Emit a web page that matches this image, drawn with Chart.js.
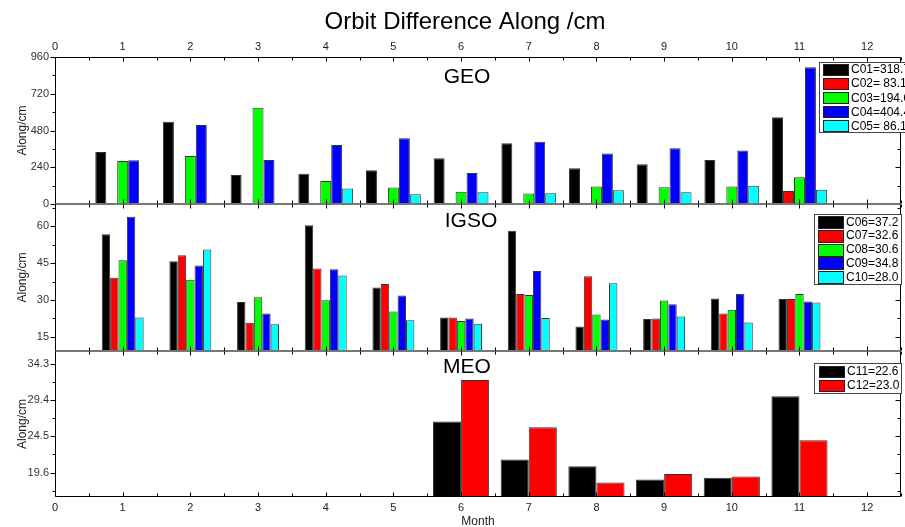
<!DOCTYPE html>
<html><head><meta charset="utf-8">
<script src="https://cdn.jsdelivr.net/npm/chart.js@4.4.1/dist/chart.umd.min.js"></script>
<style>
html,body{margin:0;padding:0;background:#fff;}
#wrap{position:relative;width:905px;height:527px;overflow:hidden;background:#fff;}
#wrap canvas{position:absolute;left:0;top:0;}
</style></head><body>
<div id="wrap">
<canvas id="geo" width="905" height="527"></canvas>
<canvas id="igso" width="905" height="527"></canvas>
<canvas id="meo" width="905" height="527"></canvas>
</div>
<script>
// ---------- data ----------
const months = [1, 2, 3, 4, 5, 6, 7, 8, 9, 10, 11];
const meoMonths = [6, 7, 8, 9, 10, 11];
const monthTicks = [0, 1, 2, 3, 4, 5, 6, 7, 8, 9, 10, 11, 12];

const geoLabels = ['C01=318.7', 'C02= 83.1', 'C03=194.0', 'C04=404.4', 'C05= 86.1'];
const C01 = [340, 537, 189, 198, 220, 298, 396, 233, 259, 287, 566];
const C02 = [null, null, null, null, null, null, null, null, null, null, 85];
const C03 = [281, 313, 629, 150, 107, 80, 68, 115, 109, 115, 174];
const C04 = [285, 516, 287, 385, 429, 202, 407, 329, 364, 350, 893];
const C05 = [null, null, null, 102, 63, 76, 70, 89, 76, 120, 93];
const geoTicks = [0, 240, 480, 720, 960];

const igsoLabels = ['C06=37.2', 'C07=32.6', 'C08=30.6', 'C09=34.8', 'C10=28.0'];
const C06 = [56.7, 45.8, 29.2, 60.4, 35.1, 22.9, 58.1, 19.3, 22.3, 30.6, 30.4];
const C07 = [39.0, 48.2, 20.8, 42.8, 36.5, 22.9, 32.4, 39.7, 22.5, 24.5, 30.4];
const C08 = [46.2, 38.2, 31.1, 29.9, 25.3, 21.5, 32.0, 24.1, 29.8, 26.1, 32.4];
const C09 = [63.8, 44.0, 24.5, 42.5, 31.8, 22.5, 41.8, 22.1, 28.3, 32.6, 29.4];
const C10 = [22.9, 50.5, 20.2, 40.0, 21.8, 20.4, 22.7, 36.8, 23.3, 20.9, 29.0];
const igsoTicks = [15, 30, 45, 60];

const meoLabels = ['C11=22.6', 'C12=23.0'];
const C11 = [26.5, 21.35, 20.45, 18.65, 18.9, 29.9];
const C12 = [32.1, 25.7, 18.25, 19.4, 19.05, 23.95];
const meoTicks = [19.6, 24.5, 29.4, 34.3];

// ---------- styling ----------
const colors = ['#000000', '#ff0000', '#00ff00', '#0000ff', '#00ffff'];
const FONT = '"Liberation Sans", Arial, Helvetica, sans-serif';
Chart.defaults.font.family = FONT;

function mk(xs, label, vals, i) {
  return {
    label: label,
    data: xs.map((m, k) => ({ x: m, y: vals[k] })),
    backgroundColor: colors[i],
    borderColor: 'rgba(0,0,0,0.8)',
    borderWidth: 1,
    borderSkipped: 'start'
  };
}

function line(ctx, x1, y1, x2, y2) {
  ctx.beginPath(); ctx.moveTo(x1, y1); ctx.lineTo(x2, y2); ctx.stroke();
}

const decor = {
  id: 'decor',
  afterDatasetsDraw(chart, args, o) {
    const ctx = chart.ctx, a = chart.chartArea;
    const xs = chart.scales.x, ys = chart.scales.y;
    const L = Math.round(a.left) + 0.5, R = Math.round(a.right) - 0.5;
    const T = Math.round(a.top) + 0.5, B = Math.round(a.bottom) - 0.5;
    ctx.save();
    ctx.lineWidth = 1;
    // frame
    ctx.strokeStyle = o.topColor; line(ctx, L, T, R, T);
    ctx.strokeStyle = o.bottomColor; line(ctx, L, B, R, B);
    ctx.strokeStyle = '#000'; line(ctx, L, T, L, B); line(ctx, R, T, R, B);
    // x ticks (inward)
    ctx.strokeStyle = '#000';
    for (let v = 0; v <= xs.max + 1e-9; v += 0.5) {
      const px = Math.round(xs.getPixelForValue(v)) + 0.5;
      const len = (v % 1 === 0) ? 4 : 3;
      line(ctx, px, T, px, T + len);
      line(ctx, px, B, px, B - len);
    }
    // y ticks
    const majors = ys.ticks.map(t => t.value);
    const step = majors[1] - majors[0];
    const minors = [];
    minors.push(majors[0] - step / 2);
    majors.forEach(m => minors.push(m + step / 2));
    const drawY = (v, len) => {
      if (v < ys.min || v > ys.max) return;
      const py = Math.round(ys.getPixelForValue(v)) + 0.5;
      line(ctx, L, py, L - len, py);
      line(ctx, R, py, R - len, py);
    };
    majors.forEach(v => drawY(v, 5));
    minors.forEach(v => drawY(v, 3));
    // panel label
    ctx.fillStyle = '#000';
    ctx.textAlign = 'center';
    ctx.textBaseline = 'middle';
    ctx.font = '21px ' + FONT;
    ctx.fillText(o.label, o.labelX, o.labelY);
    if (o.title) {
      ctx.font = '24px ' + FONT;
      ctx.fillText(o.title, o.titleX, o.titleY);
    }
    // legend
    const lg = o.legend;
    ctx.fillStyle = '#fff';
    ctx.fillRect(lg.x, lg.y, lg.w, lg.h);
    ctx.strokeStyle = '#444';
    ctx.strokeRect(lg.x + 0.5, lg.y + 0.5, lg.w, lg.h);
    ctx.font = '12px ' + FONT;
    ctx.textAlign = 'left';
    chart.data.datasets.forEach((ds, i) => {
      const cy = lg.rowY0 + i * lg.rowStep;
      const top = Math.round(cy - lg.swH / 2);
      ctx.fillStyle = ds.backgroundColor;
      ctx.fillRect(lg.swX, top, lg.swW, lg.swH);
      ctx.strokeStyle = '#222';
      ctx.strokeRect(lg.swX + 0.5, top + 0.5, lg.swW, lg.swH);
      ctx.fillStyle = '#000';
      ctx.fillText(ds.label, lg.textX, cy + 0.5);
    });
    ctx.restore();
  }
};

function makeChart(id, cfg) {
  return new Chart(document.getElementById(id), {
    type: 'bar',
    data: { datasets: cfg.datasets },
    options: {
      responsive: false,
      animation: false,
      events: [],
      layout: { padding: { left: 0, right: 4, top: cfg.padTop, bottom: cfg.padBottom } },
      datasets: { bar: { categoryPercentage: cfg.catPct, barPercentage: 1 } },
      plugins: {
        legend: { display: false },
        tooltip: { enabled: false },
        decor: cfg.decor
      },
      scales: {
        x: {
          type: 'linear', min: 0, max: 12.5, offset: false,
          position: cfg.xPos, display: cfg.xDisplay,
          grid: { display: false, drawTicks: false }, border: { display: false },
          afterBuildTicks: s => { s.ticks = monthTicks.map(v => ({ value: v })); },
          afterFit: s => { s.height = cfg.xHeight; },
          ticks: { padding: cfg.xPad, color: '#222', font: { size: 11 }, maxRotation: 0, autoSkip: false,
                   callback: v => String(v) },
          title: cfg.xTitle || { display: false }
        },
        y: {
          type: 'linear', min: cfg.yMin, max: cfg.yMax,
          grid: { display: false, drawTicks: false }, border: { display: false },
          afterBuildTicks: s => { s.ticks = cfg.yTicks.map(v => ({ value: v })); },
          afterFit: s => { s.width = 55; },
          ticks: { padding: 6, color: '#333', font: { size: 11 }, callback: v => String(v) },
          title: { display: true, text: 'Along/cm', color: '#222', font: { size: 12 }, padding: { top: 15, bottom: 0 } }
        }
      }
    },
    plugins: [decor]
  });
}

makeChart('geo', {
  datasets: [C01, C02, C03, C04, C05].map((v, i) => mk(months, geoLabels[i], v, i)),
  padTop: 0, padBottom: 323, catPct: 0.81,
  xPos: 'top', xDisplay: true, xHeight: 57, xPad: 3,
  yMin: 0, yMax: 960, yTicks: geoTicks,
  decor: {
    topColor: '#000', bottomColor: '#777',
    label: 'GEO', labelX: 467, labelY: 77,
    title: 'Orbit Difference Along /cm', titleX: 465, titleY: 22,
    legend: { x: 819, y: 62, w: 100, h: 70, rowY0: 69.5, rowStep: 14.1, swX: 823, swW: 25, swH: 11, textX: 851 }
  }
});

makeChart('igso', {
  datasets: [C06, C07, C08, C09, C10].map((v, i) => mk(months, igsoLabels[i], v, i)),
  padTop: 204, padBottom: 176, catPct: 0.62,
  xPos: 'bottom', xDisplay: false, xHeight: 0, xPad: 0,
  yMin: 9.3, yMax: 69, yTicks: igsoTicks,
  decor: {
    topColor: '#777', bottomColor: '#777',
    label: 'IGSO', labelX: 471, labelY: 221,
    legend: { x: 814, y: 214, w: 87, h: 70, rowY0: 221.7, rowStep: 13.9, swX: 818, swW: 25, swH: 12, textX: 846 }
  }
});

makeChart('meo', {
  datasets: [C11, C12].map((v, i) => mk(meoMonths, meoLabels[i], v, i)),
  padTop: 351, padBottom: 0, catPct: 0.83,
  xPos: 'bottom', xDisplay: true, xHeight: 30, xPad: 4,
  xTitle: { display: true, text: 'Month', color: '#222', font: { size: 12 }, padding: { top: 0, bottom: -2 } },
  yMin: 16.3, yMax: 36, yTicks: meoTicks,
  decor: {
    topColor: '#777', bottomColor: '#000',
    label: 'MEO', labelX: 467, labelY: 367.5,
    legend: { x: 814, y: 363, w: 87, h: 30, rowY0: 371, rowStep: 14, swX: 819, swW: 25, swH: 11, textX: 847 }
  }
});
</script>
</body></html>
